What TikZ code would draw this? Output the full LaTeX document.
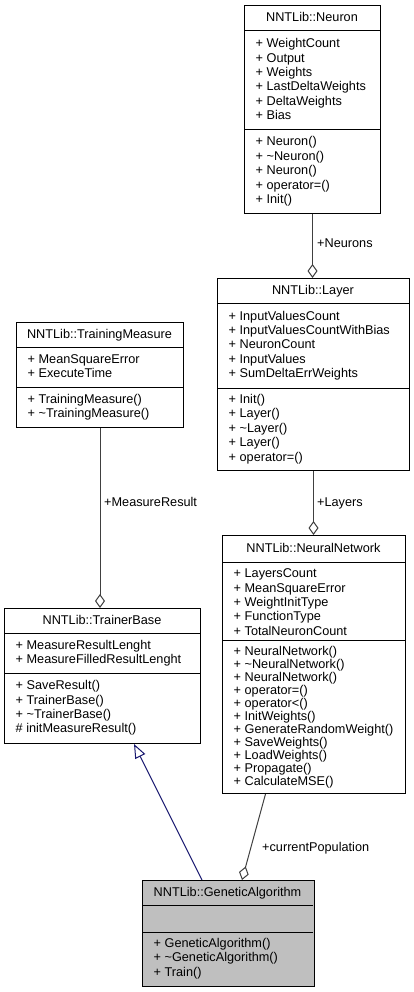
\documentclass[tikz,border=0pt]{standalone}
\usepackage{fontspec}
\setmainfont{Liberation Sans}
\usetikzlibrary{arrows.meta,calc}
\definecolor{edgegray}{HTML}{404040}
\definecolor{inhblue}{HTML}{191970}
\definecolor{gafill}{HTML}{BFBFBF}
\newcommand\umlfont{\fontsize{12.7}{14.4}\selectfont}
\tikzset{
 cls/.style={draw=black, line width=1pt, fill=white, inner sep=0pt, rectangle, anchor=north west},
 sepline/.style={draw=black, line width=1pt},
 titletext/.style={anchor=base, inner sep=0pt, font=\umlfont},
 member/.style={anchor=base west, inner sep=0pt, font=\umlfont},
 lbl/.style={anchor=base west, inner sep=0pt, font=\umlfont},
 agg/.style={draw=edgegray, line width=1pt, -{Diamond[open, length=14pt, width=10pt, line width=1pt]}},
 inh/.style={draw=inhblue, line width=1pt, -{Triangle[open, length=14pt, width=11pt, line width=1pt]}},
}
% name, left, top, right, header, sep, bottom, width, height
\newcommand\umlbox[9]{%
  \node[cls, minimum width=#8pt, minimum height=#9pt] (#1) at (#2,#3) {};
  \draw[sepline] (#2,#5) -- (#4,#5);
  \draw[sepline] (#2,#6) -- (#4,#6);}
\newcommand\members[5]{\foreach \m [count=\k from 0] in {#5}{\node[member] (#1\k) at (#2,{#3+#4*\k}) {\m};}}
\begin{document}
\begin{tikzpicture}[x=1pt,y=-1pt]
\fill[white] (0,0) rectangle (413,992);
\useasboundingbox (0,0) rectangle (413,992);

% Neuron
\umlbox{neuron}{244}{5}{380}{31}{130}{213}{136}{208}
\node[titletext] (neuront) at (312,22) {NNTLib::Neuron};
\members{neurona}{255.5}{47.8}{14.4}{+ WeightCount, + Output, + Weights, + LastDeltaWeights, + DeltaWeights, + Bias}
\members{neuronm}{255.5}{146}{14.4}{+ Neuron(), + \textasciitilde Neuron(), + Neuron(), + operator=(), + Init()}

% Layer
\umlbox{layer}{217}{278}{409}{303}{388}{470}{192}{192}
\node[titletext] (layert) at (313,294.5) {NNTLib::Layer};
\members{layera}{228.5}{320}{14.4}{+ InputValuesCount, + InputValuesCountWithBias, + NeuronCount, + InputValues, + SumDeltaErrWeights}
\members{layerm}{228.5}{403.5}{14.4}{+ Init(), + Layer(), + \textasciitilde Layer(), + Layer(), + operator=()}

% TrainingMeasure
\umlbox{tm}{16}{322}{183}{347}{387}{427}{167}{105}
\node[titletext] (tmt) at (99.5,338.5) {NNTLib::TrainingMeasure};
\members{tma}{27.5}{363.1}{14.4}{+ MeanSquareError, + ExecuteTime}
\members{tmm}{27.5}{403.1}{14.4}{+ TrainingMeasure(), + \textasciitilde TrainingMeasure()}

% TrainerBase
\umlbox{tb}{4}{608}{200}{633}{673}{743}{196}{135}
\node[titletext] (tbt) at (102,624.5) {NNTLib::TrainerBase};
\members{tba}{15.5}{649.1}{14.4}{+ MeasureResultLenght, + MeasureFilledResultLenght}
\members{tbm}{15.5}{689.7}{14.4}{+ SaveResult(), + TrainerBase(), + \textasciitilde TrainerBase(), \# initMeasureResult()}

% NeuralNetwork
\umlbox{nn}{222}{535}{405}{562}{640}{793}{183}{258}
\node[titletext] (nnt) at (313.5,552.5) {NNTLib::NeuralNetwork};
\members{nna}{233.5}{577.6}{14.4}{+ LayersCount, + MeanSquareError, + WeightInitType, + FunctionType, + TotalNeuronCount}
\members{nnm}{233.5}{655}{13}{+ NeuralNetwork(), + \textasciitilde NeuralNetwork(), + NeuralNetwork(), + operator=(), + operator<(), + InitWeights(), + GenerateRandomWeight(), + SaveWeights(), + LoadWeights(), + Propagate(), + CalculateMSE()}

% GeneticAlgorithm
\umlbox{ga}{142}{880}{313}{905}{932}{985}{171}{105}
\fill[gafill] (ga.north west) rectangle (ga.south east);
\draw[sepline] (ga.north west) rectangle (ga.south east);
\draw[sepline] (142,905) -- (313,905);
\draw[sepline] (142,932) -- (313,932);
\node[titletext] (gat) at (227.5,896.5) {NNTLib::GeneticAlgorithm};
\members{gam}{153.5}{947.4}{14.4}{+ GeneticAlgorithm(), + \textasciitilde GeneticAlgorithm(), + Train()}

% connectors
\draw[agg] (neuron.south) -- (neuron.south |- layer.north);
\node[lbl] (lneurons) at (317,247.6) {+Neurons};
\draw[agg] (layer.south) -- (layer.south |- nn.north);
\node[lbl] (llayers) at (317,506.6) {+Layers};
\draw[agg] (tm.south) -- (tm.south |- tb.north);
\node[lbl] (lmeasure) at (104,506.6) {+MeasureResult};
\draw[agg] ($(nn.south west)+(43.5,0)$) -- ($(ga.north west)+(100,0)$);
\node[lbl] (lpop) at (262,851.6) {+currentPopulation};
\draw[inh] ($(ga.north west)+(60,0)$) -- ($(tb.south west)+(130,0)$);
\end{tikzpicture}
\end{document}
